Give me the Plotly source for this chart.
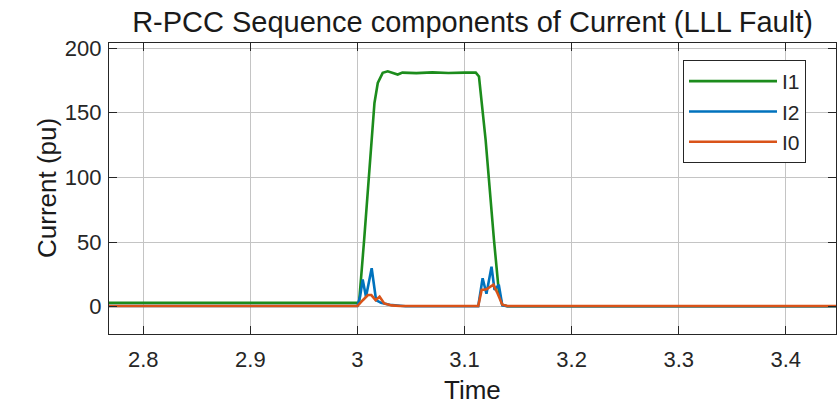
import plotly.graph_objects as go

# ---- data ----
t_i1 = [2.75, 3.0, 3.0015, 3.0063, 3.0159, 3.019, 3.0236, 3.0283, 3.033, 3.0376, 3.042,
        3.055, 3.07, 3.085, 3.1, 3.1105, 3.1135, 3.1197, 3.1275, 3.1322, 3.1353, 3.14, 3.45]
i1 = [3.0, 3.0, 3.0, 52.0, 157.5, 173.0, 180.8, 182.0, 181.0, 179.5, 181.0,
      180.6, 181.2, 180.7, 181.0, 181.0, 178.0, 129.0, 51.7, 10.3, 1.3, 0.3, 0.3]

t_i2 = [2.75, 3.0, 3.0025, 3.0049, 3.008, 3.0133, 3.0174, 3.022, 3.03, 3.045, 3.1128,
        3.1169, 3.1205, 3.1252, 3.128, 3.132, 3.1353, 3.14, 3.45]
i2 = [0.5, 0.5, 8.0, 21.0, 7.7, 29.7, 5.0, 3.0, 1.5, 0.3, 0.3,
      22.0, 10.0, 31.0, 13.0, 17.0, 1.0, 0.3, 0.3]

t_i0 = [2.75, 3.0, 3.005, 3.0098, 3.013, 3.017, 3.0207, 3.025, 3.032, 3.04, 3.1128,
        3.116, 3.1205, 3.127, 3.131, 3.1353, 3.14, 3.45]
i0 = [0.5, 0.5, 5.0, 9.0, 9.0, 5.0, 7.7, 2.5, 1.0, 0.5, 0.5,
      13.0, 13.5, 17.0, 10.0, 1.5, 0.5, 0.5]

x_ticks = [2.8, 2.9, 3.0, 3.1, 3.2, 3.3, 3.4]
x_tick_labels = ["2.8", "2.9", "3", "3.1", "3.2", "3.3", "3.4"]
y_ticks = [0, 50, 100, 150, 200]
y_tick_labels = ["0", "50", "100", "150", "200"]

FONT = "Liberation Sans, Arial, sans-serif"
AX = "#262626"

W, H = 838, 404
L, R, T, B = 109, 2, 43, 70  # plot area: x 109..836, y 43..334
PW, PH = W - L - R, H - T - B

fig = go.Figure()
fig.add_trace(go.Scatter(x=t_i1, y=i1, mode="lines", name="I1",
                         line=dict(color="#1c8c1c", width=2.6)))
fig.add_trace(go.Scatter(x=t_i2, y=i2, mode="lines", name="I2",
                         line=dict(color="#0072BD", width=2.6)))
fig.add_trace(go.Scatter(x=t_i0, y=i0, mode="lines", name="I0",
                         line=dict(color="#D95319", width=2.6)))

axis_common = dict(showline=True, mirror="ticks", linecolor=AX, linewidth=1.3,
                   ticks="inside", ticklen=8, tickcolor=AX, tickwidth=1,
                   showgrid=True, gridcolor="#c4c4c4", gridwidth=1,
                   zeroline=False, automargin=False,
                   tickfont=dict(family=FONT, size=22, color=AX))

fig.update_layout(
    width=W, height=H,
    margin=dict(l=L, r=R, t=T, b=B),
    paper_bgcolor="white", plot_bgcolor="white",
    title=dict(text="R-PCC Sequence components of Current (LLL Fault)",
               font=dict(family=FONT, size=29, color="#1a1a1a"),
               x=0.5, xref="paper", xanchor="center",
               y=1 - 22 / H, yref="container", yanchor="middle"),
    xaxis=dict(range=[2.768, 3.4469], tickvals=x_ticks, ticktext=x_tick_labels,
               ticklabelstandoff=5, **axis_common),
    yaxis=dict(range=[-21.1, 203.9], tickvals=y_ticks, ticktext=y_tick_labels,
               ticklabelstandoff=2, **axis_common),
    legend=dict(x=(806 - L) / PW, xanchor="right",
                y=(334 - 60) / PH, yanchor="top",
                bgcolor="white", bordercolor=AX, borderwidth=1,
                font=dict(family=FONT, size=21, color=AX),
                itemwidth=88, tracegroupgap=0),
    showlegend=True,
    annotations=[
        dict(text="Time", xref="paper", yref="paper",
             x=0.5, y=(334 - 390) / PH, xanchor="center", yanchor="middle",
             showarrow=False, font=dict(family=FONT, size=26, color="#1a1a1a")),
        dict(text="Current (pu)", xref="paper", yref="paper", textangle=-90,
             x=(47 - L) / PW, y=(334 - 188) / PH,
             xanchor="center", yanchor="middle",
             showarrow=False, font=dict(family=FONT, size=26, color="#1a1a1a")),
    ],
)

fig.write_html("out.html", config={"displayModeBar": False},
               post_script="document.body.style.margin='0';")
